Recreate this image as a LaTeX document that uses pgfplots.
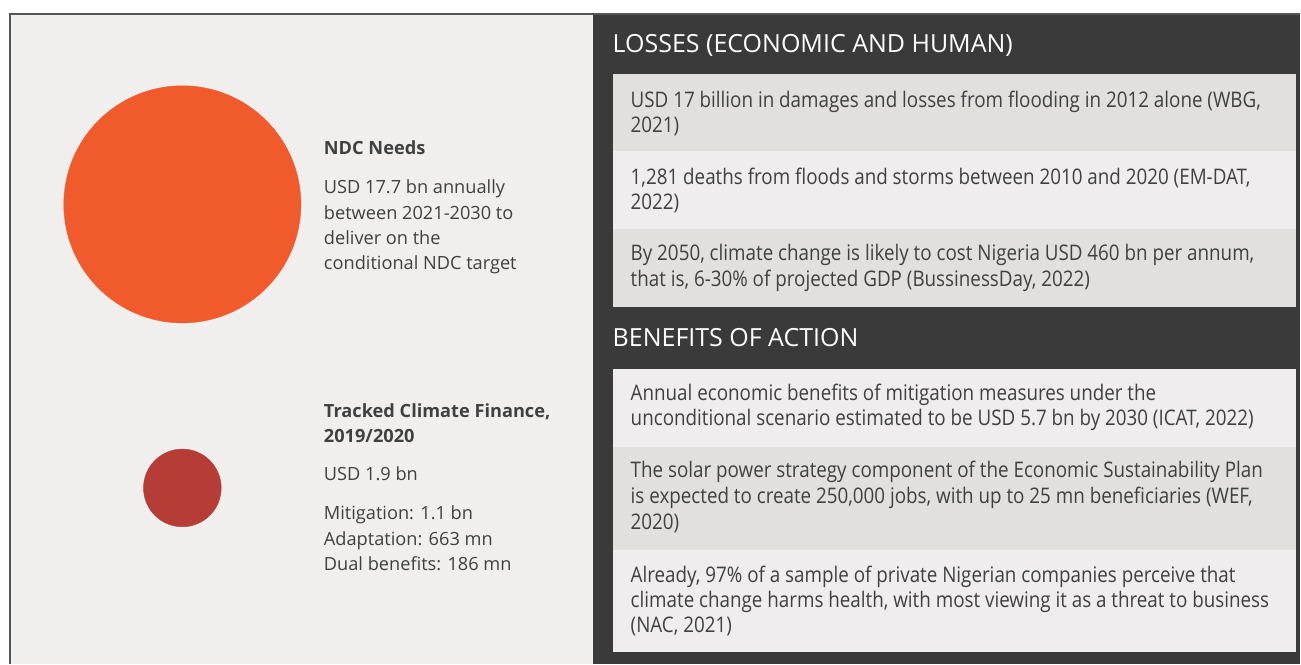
\documentclass[border=0pt]{standalone}
\usepackage{fontspec}
\setmainfont{Open Sans}
\newfontfamily\condfont[FakeStretch=0.875]{Open Sans}
\usepackage{pgfplots}
\pgfplotsset{compat=1.18}
\usepackage{pgfplotstable}

\definecolor{leftbg}{HTML}{F0EFEE}
\definecolor{darkbg}{HTML}{3A3A3A}
\definecolor{boxa}{HTML}{E1E0DF}
\definecolor{boxb}{HTML}{EFEDED}
\definecolor{frame}{HTML}{555555}
\definecolor{txt}{HTML}{404040}
\definecolor{ndc}{HTML}{F15A2B}
\definecolor{tracked}{HTML}{B53D35}

% circle areas are proportional to the amount (USD bn)
\pgfplotstableread{
x y v
182.5 204.5 17.7
}\ndcneeds
\pgfplotstableread{
x y v
182.5 488.3 1.9
}\trackedfin

\newcommand\lefttxt[2]{\node[anchor=base west,inner sep=0pt,text=txt,font=\fontsize{18.2}{22}\selectfont] at (axis cs:324,#1) {#2};}
\newcommand\boxtxt[2]{\node[anchor=base west,inner sep=0pt,text=txt,font=\condfont\fontsize{21.5}{25}\selectfont] at (axis cs:631,#1) {#2};}
\newcommand\headtxt[2]{\node[anchor=base west,inner sep=0pt,text=white,font=\fontsize{25}{30}\selectfont] at (axis cs:613,#1) {#2};}

\begin{document}
\begin{tikzpicture}
\begin{axis}[
    width=1301pt, height=664pt, scale only axis,
    xmin=0, xmax=1301, ymin=0, ymax=664, y dir=reverse,
    hide axis, clip=false,
]
\fill[white] (axis cs:0,0) rectangle (axis cs:1301,664);
\fill[leftbg] (axis cs:10,14) rectangle (axis cs:593,664);
\fill[darkbg] (axis cs:593,14) rectangle (axis cs:1301,664);
\draw[frame,line width=2pt] (axis cs:10,664) -- (axis cs:10,14) -- (axis cs:1301,14);
% boxes
\fill[boxa] (axis cs:613,74) rectangle (axis cs:1297,151);
\fill[boxb] (axis cs:613,151) rectangle (axis cs:1297,229);
\fill[boxa] (axis cs:613,229) rectangle (axis cs:1297,307);
\fill[boxb] (axis cs:613,369) rectangle (axis cs:1297,447);
\fill[boxa] (axis cs:613,447) rectangle (axis cs:1297,550);
\fill[boxb] (axis cs:613,550) rectangle (axis cs:1297,652);

\addplot[scatter, only marks, mark=*,
    scatter/use mapped color={draw=ndc, fill=ndc},
    visualization depends on={28.2*sqrt(\thisrow{v}) \as \rad},
    scatter/@pre marker code/.append style={/tikz/mark size=\rad}]
    table[x=x, y=y] {\ndcneeds};
\addplot[scatter, only marks, mark=*,
    scatter/use mapped color={draw=tracked, fill=tracked},
    visualization depends on={28.2*sqrt(\thisrow{v}) \as \rad},
    scatter/@pre marker code/.append style={/tikz/mark size=\rad}]
    table[x=x, y=y] {\trackedfin};

% left texts
\lefttxt{155}{\bfseries NDC Needs}
\lefttxt{193.3}{USD 17.7 bn annually}
\lefttxt{219.3}{between 2021-2030 to}
\lefttxt{244.5}{deliver on the}
\lefttxt{269.8}{conditional NDC target}
\lefttxt{417.7}{\bfseries Tracked Climate Finance,}
\lefttxt{442.5}{\bfseries 2019/2020}
\lefttxt{481}{USD 1.9 bn}
\lefttxt{520}{Mitigation: 1.1 bn}
\lefttxt{545.5}{Adaptation: 663 mn}
\lefttxt{571}{Dual benefits: 186 mn}

% right texts
\headtxt{53}{LOSSES (ECONOMIC AND HUMAN)}
\boxtxt{107.5}{USD 17 billion in damages and losses from flooding in 2012 alone (WBG,}
\boxtxt{132.8}{2021)}
\boxtxt{184.5}{1,281 deaths from floods and storms between 2010 and 2020 (EM-DAT,}
\boxtxt{209.8}{2022)}
\boxtxt{261}{By 2050, climate change is likely to cost Nigeria USD 460 bn per annum,}
\boxtxt{286.3}{that is, 6-30\% of projected GDP (BussinessDay, 2022)}
\headtxt{346.5}{BENEFITS OF ACTION}
\boxtxt{401}{Annual economic benefits of mitigation measures under the}
\boxtxt{426.3}{unconditional scenario estimated to be USD 5.7 bn by 2030 (ICAT, 2022)}
\boxtxt{478.3}{The solar power strategy component of the Economic Sustainability Plan}
\boxtxt{504}{is expected to create 250,000 jobs, with up to 25 mn beneficiaries (WEF,}
\boxtxt{529.5}{2020)}
\boxtxt{582.5}{Already, 97\% of a sample of private Nigerian companies perceive that}
\boxtxt{607.8}{climate change harms health, with most viewing it as a threat to business}
\boxtxt{633}{(NAC, 2021)}
\end{axis}
\end{tikzpicture}
\end{document}
